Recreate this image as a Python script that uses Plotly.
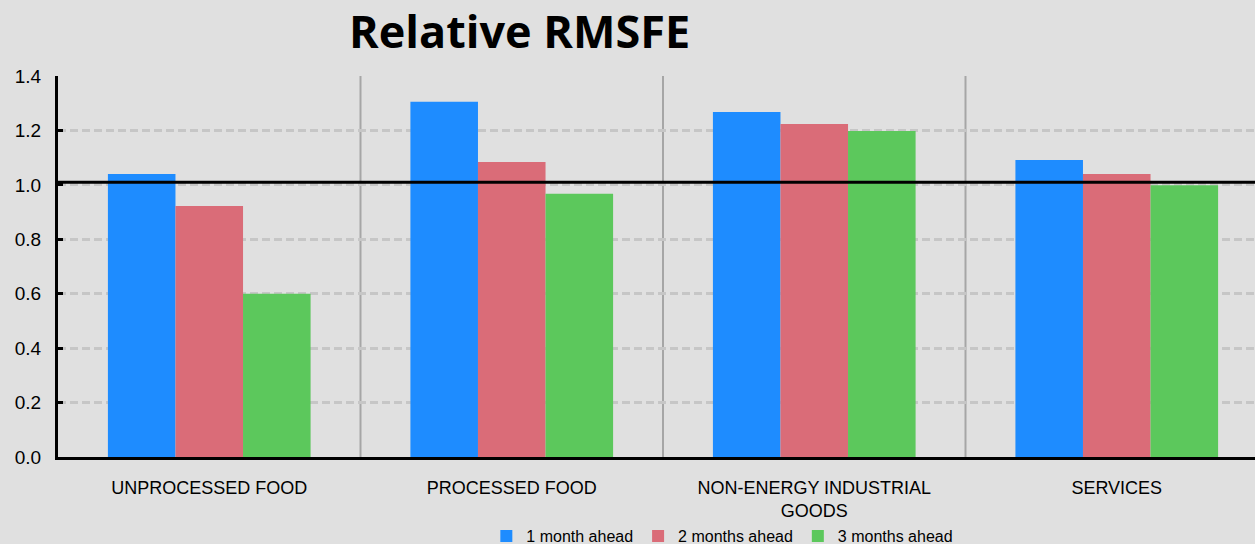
import plotly.graph_objects as go

categories = ["UNPROCESSED FOOD", "PROCESSED FOOD", "NON-ENERGY INDUSTRIAL<br>GOODS", "SERVICES"]
series_names = ["1 month ahead", "2 months ahead", "3 months ahead"]
one_month = [1.04, 1.305, 1.268, 1.091]
two_months = [0.922, 1.084, 1.224, 1.040]
three_months = [0.600, 0.967, 1.198, 0.999]
colors = ["#1E8CFF", "#DA6C78", "#5CC85C"]
reference_level = 1.01

fig = go.Figure()
for name, vals, c in zip(series_names, [one_month, two_months, three_months], colors):
    fig.add_trace(go.Bar(x=list(range(len(categories))), y=vals, name=name,
                         marker=dict(color=c, line=dict(width=0))))

shapes = []
for b in [0.5, 1.5, 2.5]:
    shapes.append(dict(type="line", xref="x", yref="paper", x0=b, x1=b, y0=0, y1=1,
                       line=dict(color="#a6a6a6", width=2), layer="below"))
shapes.append(dict(type="line", xref="paper", yref="y", x0=0, x1=1,
                   y0=reference_level, y1=reference_level,
                   line=dict(color="black", width=3)))

fig.update_layout(
    width=1255, height=544,
    paper_bgcolor="#e0e0e0", plot_bgcolor="#e0e0e0",
    margin=dict(l=58, r=0, t=76, b=87, autoexpand=False),
    barmode="group", bargap=0.33, bargroupgap=0,
    font=dict(family="Liberation Sans, Arial", size=16, color="black"),
    title=dict(text="<b>Relative RMSFE</b>", x=0.414, xanchor="center", y=0.94, yanchor="middle",
               font=dict(family="Open Sans, Lato", size=45, color="black")),
    xaxis=dict(tickmode="array", tickvals=list(range(len(categories))), ticktext=categories,
               range=[-0.5, 3.457], showgrid=False, zeroline=False, automargin=False,
               showline=True, linecolor="black", linewidth=3, ticks="", ticklabelstandoff=12,
               tickfont=dict(size=18)),
    yaxis=dict(range=[0, 1.4], dtick=0.2, tickformat=".1f", showgrid=True,
               gridcolor="#c6c6c6", griddash="8px,4px", gridwidth=3, zeroline=False,
               automargin=False,
               showline=True, linecolor="black", linewidth=3, ticks="inside", ticklen=5,
               tickwidth=3, tickcolor="black", tickfont=dict(size=19), ticklabelstandoff=10),
    legend=dict(orientation="h", x=0.555, xanchor="center", y=-0.163, yanchor="top",
                font=dict(size=16), bgcolor="rgba(0,0,0,0)", itemwidth=30,
                tracegroupgap=0),
    shapes=shapes,
    showlegend=True,
)

fig.write_html("out.html")
